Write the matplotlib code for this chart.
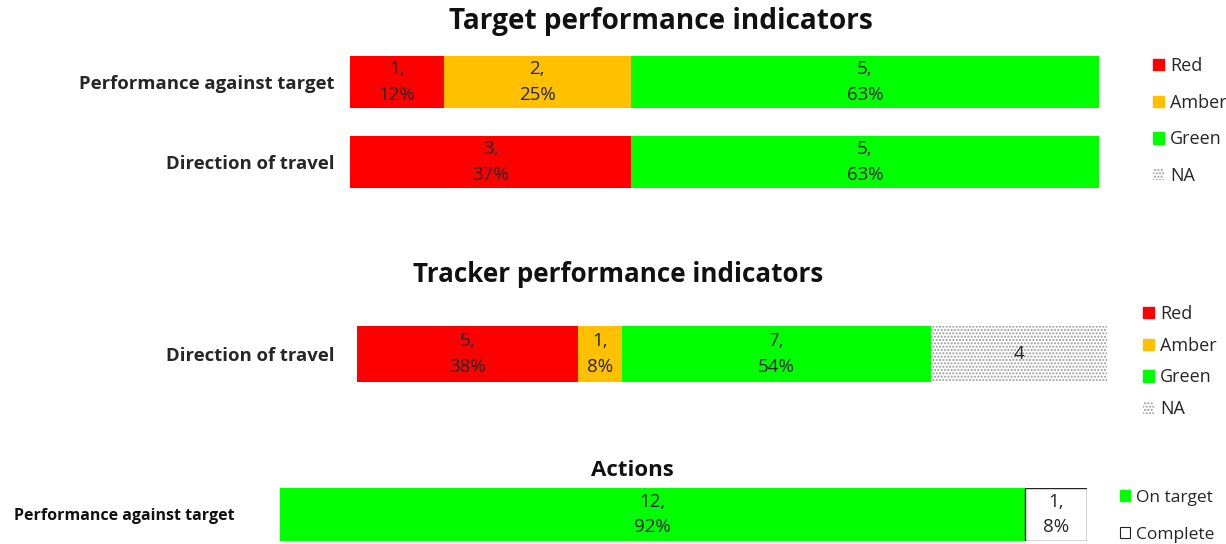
import matplotlib
matplotlib.use("Agg")
import matplotlib.pyplot as plt
from matplotlib.patches import Patch

plt.rcParams['font.family'] = ['Open Sans', 'DejaVu Sans']

# ---------------- data ----------------
target_rows = ["Performance against target", "Direction of travel"]
target_red = [1, 3]
target_amber = [2, 0]
target_green = [5, 5]
target_red_pct = ["12%", "37%"]
target_amber_pct = ["25%", ""]
target_green_pct = ["63%", "63%"]

tracker_rows = ["Direction of travel"]
tracker_red = [5]
tracker_amber = [1]
tracker_green = [7]
tracker_na = [4]
tracker_red_pct = ["38%"]
tracker_amber_pct = ["8%"]
tracker_green_pct = ["54%"]

action_rows = ["Performance against target"]
action_on_target = [12]
action_complete = [1]
action_on_target_pct = ["92%"]
action_complete_pct = ["8%"]

RED, AMBER, GREEN = "#ff0000", "#ffc000", "#00ff00"
TXT = '#262626'

W, H = 1226, 544
fig = plt.figure(figsize=(W / 100, H / 100), dpi=100)


def ax_px(x0, y0, x1, y1):
    return fig.add_axes([x0 / W, 1 - y1 / H, (x1 - x0) / W, (y1 - y0) / H])


def clean(ax):
    for s in ax.spines.values():
        s.set_visible(False)
    ax.set_xticks([])
    ax.tick_params(axis='y', length=0)


def label_segments(ax, bars, counts, pcts, fs=13.5):
    for b, c, p in zip(bars, counts, pcts):
        if c == 0:
            continue
        txt = f"{c},\n{p}" if p else f"{c}"
        ax.text(b.get_x() + b.get_width() / 2, b.get_y() + b.get_height() / 2, txt,
                ha='center', va='center', fontsize=fs, color=TXT, linespacing=1.5)


def stacked(ax, rows, series, height):
    y = list(range(len(rows)))
    left = [0] * len(rows)
    out = []
    for vals, kw in series:
        bars = ax.barh(y, vals, left=left, height=height, **kw)
        out.append(bars)
        left = [l + v for l, v in zip(left, vals)]
    ax.set_xlim(0, max(left))
    return out


# ---------------- panel 1: target ----------------
ax1 = ax_px(350, 56, 1099, 188)
b_r, b_a, b_g = stacked(ax1, target_rows, [
    (target_red, dict(color=RED, label="Red")),
    (target_amber, dict(color=AMBER, label="Amber")),
    (target_green, dict(color=GREEN, label="Green")),
], 0.65)
ax1.set_ylim(1.325, -0.325)
ax1.set_yticks(range(len(target_rows)))
ax1.set_yticklabels(target_rows, fontsize=13.3, fontweight='bold', color=TXT)
ax1.tick_params(axis='y', pad=11)
clean(ax1)
label_segments(ax1, b_r, target_red, target_red_pct)
label_segments(ax1, b_a, target_amber, target_amber_pct)
label_segments(ax1, b_g, target_green, target_green_pct)
fig.text(661 / W, 1 - 21 / H, "Target performance indicators", ha='center', va='center',
         fontsize=20.2, fontweight='bold', color='#111111')

h1 = [Patch(color=RED, label='Red'), Patch(color=AMBER, label='Amber'),
      Patch(color=GREEN, label='Green'),
      Patch(facecolor='white', edgecolor='#9a9a9a', hatch='.....', linewidth=0, label='NA')]
fig.legend(handles=h1, loc='upper left', bbox_to_anchor=(1153 / W, 1 - 57 / H),
           frameon=False, fontsize=13, handlelength=0.6, handleheight=0.6,
           handletextpad=0.35, labelspacing=1.03, borderaxespad=0, borderpad=0,
           labelcolor=TXT)

# ---------------- panel 2: tracker ----------------
ax2 = ax_px(357, 326, 1107, 382)
t_r, t_a, t_g, t_n = stacked(ax2, tracker_rows, [
    (tracker_red, dict(color=RED)),
    (tracker_amber, dict(color=AMBER)),
    (tracker_green, dict(color=GREEN)),
    (tracker_na, dict(facecolor='white', edgecolor='#9a9a9a', hatch='.....', linewidth=0)),
], 1.0)
ax2.set_ylim(0.5, -0.5)
ax2.set_yticks(range(len(tracker_rows)))
ax2.set_yticklabels(tracker_rows, fontsize=13.3, fontweight='bold', color=TXT)
ax2.tick_params(axis='y', pad=16)
clean(ax2)
label_segments(ax2, t_r, tracker_red, tracker_red_pct)
label_segments(ax2, t_a, tracker_amber, tracker_amber_pct)
label_segments(ax2, t_g, tracker_green, tracker_green_pct)
label_segments(ax2, t_n, tracker_na, [""])
fig.text(618 / W, 1 - 275 / H, "Tracker performance indicators", ha='center', va='center',
         fontsize=18.7, fontweight='bold', color='#111111')
h2 = [Patch(color=RED, label='Red'), Patch(color=AMBER, label='Amber'),
      Patch(color=GREEN, label='Green'),
      Patch(facecolor='white', edgecolor='#9a9a9a', hatch='.....', linewidth=0, label='NA')]
fig.legend(handles=h2, loc='upper left', bbox_to_anchor=(1143 / W, 1 - 305 / H),
           frameon=False, fontsize=13, handlelength=0.6, handleheight=0.6,
           handletextpad=0.35, labelspacing=0.76, borderaxespad=0, borderpad=0,
           labelcolor=TXT)

# ---------------- panel 3: actions ----------------
ax3 = ax_px(280, 488, 1087, 541)
a_g, a_c = stacked(ax3, action_rows, [
    (action_on_target, dict(color=GREEN)),
    (action_complete, dict(facecolor='white', edgecolor='#222222', linewidth=1)),
], 1.0)
ax3.set_ylim(0.5, -0.5)
ax3.set_yticks(range(len(action_rows)))
ax3.set_yticklabels(action_rows, fontsize=11.5, fontweight='bold', color='#111111')
ax3.tick_params(axis='y', pad=33)
clean(ax3)
label_segments(ax3, a_g, action_on_target, action_on_target_pct)
label_segments(ax3, a_c, action_complete, action_complete_pct)
fig.text(632 / W, 1 - 470 / H, "Actions", ha='center', va='center',
         fontsize=16, fontweight='bold', color='#111111')
h3 = [Patch(color=GREEN, label='On target'),
      Patch(facecolor='white', edgecolor='#222222', linewidth=0.8, label='Complete')]
fig.legend(handles=h3, loc='upper left', bbox_to_anchor=(1120 / W, 1 - 490 / H),
           frameon=False, fontsize=12.5, handlelength=0.6, handleheight=0.6,
           handletextpad=0.35, labelspacing=1.2, borderaxespad=0, borderpad=0,
           labelcolor=TXT)

fig.savefig("out.png", dpi=100)
